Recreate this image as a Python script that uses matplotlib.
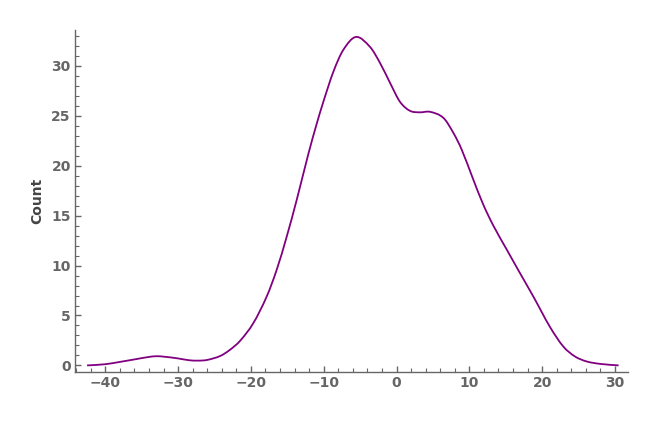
import matplotlib
matplotlib.use("Agg")
import matplotlib.pyplot as plt
from matplotlib.ticker import MultipleLocator
from matplotlib.path import Path
from matplotlib.patches import PathPatch

x_vals = [-42.5, -40, -38, -36, -34, -33, -32, -30, -28.5, -27.2, -26, -24.2, -22.9,
          -21.5, -19.67, -17.83, -16.46, -15.08, -13.7, -12.1, -11, -10.05, -8.68,
          -7.31, -5.56, -3.64, -2.27, -0.89, 0.48, 1.85, 3.2, 4.6, 6.43, 7.8, 8.96,
          10.55, 11.92, 13.3, 15.14, 16.96, 18.79, 21.08, 22.9, 24.5, 26.1, 28, 30.5]
count_vals = [0.0, 0.12, 0.35, 0.6, 0.85, 0.92, 0.88, 0.7, 0.52, 0.48, 0.55, 0.95, 1.55,
              2.45, 4.23, 6.9, 9.57, 12.9, 16.6, 21.2, 24.1, 26.4, 29.4,
              31.6, 32.9, 31.9, 30.3, 28.3, 26.4, 25.5, 25.35, 25.4, 24.8, 23.3, 21.6,
              18.6, 16.1, 14.0, 11.6, 9.24, 6.9, 3.85, 1.9, 0.9, 0.4, 0.15, 0.0]


def smooth_path(xs, ys):
    n = len(xs)
    m = []
    for i in range(n):
        if i == 0:
            m.append((ys[1] - ys[0]) / (xs[1] - xs[0]))
        elif i == n - 1:
            m.append((ys[-1] - ys[-2]) / (xs[-1] - xs[-2]))
        else:
            m.append((ys[i + 1] - ys[i - 1]) / (xs[i + 1] - xs[i - 1]))
    verts = [(xs[0], ys[0])]
    codes = [Path.MOVETO]
    for i in range(n - 1):
        h = xs[i + 1] - xs[i]
        verts += [(xs[i] + h / 3, ys[i] + m[i] * h / 3),
                  (xs[i + 1] - h / 3, ys[i + 1] - m[i + 1] * h / 3),
                  (xs[i + 1], ys[i + 1])]
        codes += [Path.CURVE4] * 3
    return Path(verts, codes)


fig = plt.figure(figsize=(6.6, 4.47), dpi=100)
ax = fig.add_axes([0.1136, 0.168, 0.838, 0.765])
ax.add_patch(PathPatch(smooth_path(x_vals, count_vals), facecolor="none",
                       edgecolor="#800080", linewidth=1.3))

ax.set_xlim(-44.16, 31.8)
ax.set_ylim(-0.65, 33.6)
ax.xaxis.set_major_locator(MultipleLocator(10))
ax.xaxis.set_minor_locator(MultipleLocator(2))
ax.yaxis.set_major_locator(MultipleLocator(5))
ax.yaxis.set_minor_locator(MultipleLocator(1))

for s in ["top", "right"]:
    ax.spines[s].set_visible(False)
for s in ["left", "bottom"]:
    ax.spines[s].set_color("#666666")
    ax.spines[s].set_linewidth(1.0)

ax.tick_params(which="major", direction="in", length=4, width=1, color="#666666",
               labelsize=10, labelcolor="#666666", pad=3)
ax.tick_params(which="minor", direction="in", length=3, width=0.8, color="#666666")
for lab in ax.get_xticklabels() + ax.get_yticklabels():
    lab.set_fontweight("bold")

ax.set_ylabel("Count", fontsize=10, fontweight="bold", color="#444444", labelpad=5)

fig.savefig("out.png", dpi=100)
